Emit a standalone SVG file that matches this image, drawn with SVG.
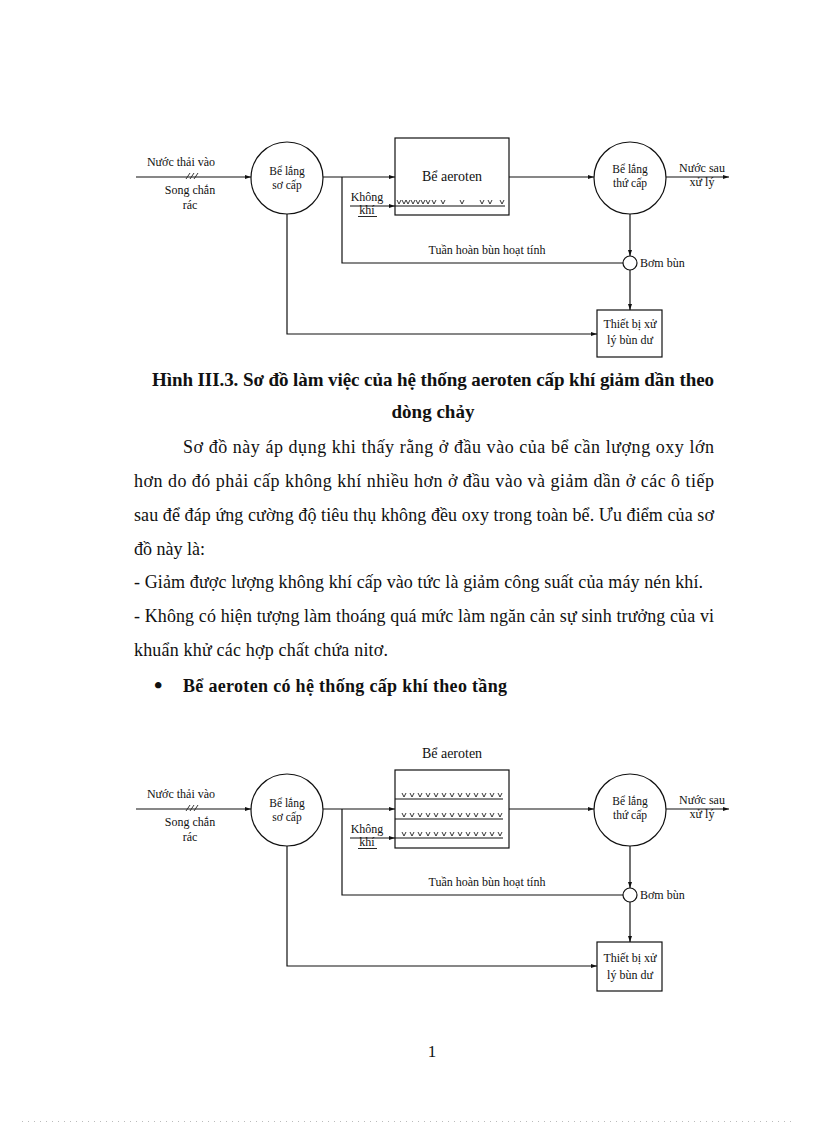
<svg xmlns="http://www.w3.org/2000/svg" width="816" height="1123" viewBox="0 0 816 1123">
<defs>
<style>
.ln{stroke:#111;stroke-width:1.2;fill:none}
.sh{stroke:#111;stroke-width:1.2;fill:#fff}
.ae{stroke:#222;stroke-width:0.9;fill:none}
.t{font-family:"Liberation Serif","Times New Roman",serif;font-size:12px;fill:#111}
.tc{font-family:"Liberation Serif","Times New Roman",serif;font-size:11.5px;fill:#111;text-anchor:middle}
.m{text-anchor:middle}
.b{font-family:"Liberation Serif","Times New Roman",serif;font-size:18px;fill:#111}
.cap{font-family:"Liberation Serif","Times New Roman",serif;font-size:19px;font-weight:bold;fill:#111}
</style>
<marker id="ar" markerUnits="userSpaceOnUse" markerWidth="6" markerHeight="4" refX="6" refY="2" orient="auto">
<path d="M0,0 L6,2 L0,4 z" fill="#111"/>
</marker>
<path id="v" d="M-2,-6 L0,-2 L2,-6" class="ae"/>
</defs>
<rect width="816" height="1123" fill="#fff"/>

<!-- Diagram 1 -->
<g id="diagram1">
<g id="d1-connectors">
<line class="ln" x1="136" y1="177" x2="251" y2="177" marker-end="url(#ar)"/>
<path class="ae" d="M186,179 L190,173 M190,179 L194,173 M194,179 L198,173"/>
<line class="ln" x1="323" y1="177" x2="395" y2="177" marker-end="url(#ar)"/>
<line class="ln" x1="509" y1="177" x2="594" y2="177" marker-end="url(#ar)"/>
<line class="ln" x1="666" y1="177" x2="729" y2="177" marker-end="url(#ar)"/>
<line class="ln" x1="350" y1="206" x2="395" y2="206" marker-end="url(#ar)"/>
<path class="ln" d="M623,263 L342,263 L342,177"/>
<line class="ln" x1="630" y1="214" x2="630" y2="256" marker-end="url(#ar)"/>
<line class="ln" x1="630" y1="270" x2="630" y2="310" marker-end="url(#ar)"/>
<path class="ln" d="M287,214 L287,334 L597,334" marker-end="url(#ar)"/>
</g>
<g id="d1-input-labels">
<text class="t m" x="181" y="166">Nước thải vào</text>
<text class="t m" x="190" y="194">Song chắn</text>
<text class="t m" x="190" y="209">rác</text>
</g>
<g id="d1-primary">
<circle class="sh" cx="287" cy="178" r="36"/>
<text class="tc" x="287" y="175">Bể lắng</text>
<text class="tc" x="287" y="189">sơ cấp</text>
</g>
<g id="d1-aeroten">
<rect class="sh" x="395" y="138" width="114" height="77"/>
<text class="t m" x="452" y="181" style="font-size:14px">Bể aeroten</text>
<line class="ln" x1="395" y1="206" x2="505" y2="206"/>
<use href="#v" x="399" y="206"/><use href="#v" x="404" y="206"/><use href="#v" x="408" y="206"/>
<use href="#v" x="413" y="206"/><use href="#v" x="418" y="206"/><use href="#v" x="423" y="206"/>
<use href="#v" x="428" y="206"/><use href="#v" x="434" y="206"/><use href="#v" x="443" y="206"/>
<use href="#v" x="462" y="206"/><use href="#v" x="482" y="206"/><use href="#v" x="490" y="206"/>
<use href="#v" x="502" y="206"/>
</g>
<g id="d1-air">
<text class="t m" x="367" y="201">Không</text>
<text class="t m" x="367" y="214">khí</text>
<line class="ln" x1="358" y1="216.5" x2="377" y2="216.5" style="stroke-width:0.9"/>
</g>
<g id="d1-secondary">
<circle class="sh" cx="630" cy="178" r="36"/>
<text class="tc" x="630" y="173">Bể lắng</text>
<text class="tc" x="630" y="187">thứ cấp</text>
</g>
<g id="d1-output">
<text class="t m" x="702" y="172">Nước sau</text>
<text class="t m" x="702" y="186">xử lý</text>
</g>
<g id="d1-recycle-label">
<text class="t m" x="487" y="254">Tuần hoàn bùn hoạt tính</text>
</g>
<g id="d1-pump">
<circle class="sh" cx="630" cy="263" r="7"/>
<text class="t" x="640" y="267">Bơm bùn</text>
</g>
<g id="d1-sludge">
<rect class="sh" x="597" y="310" width="65" height="47"/>
<text class="t m" x="630" y="328">Thiết bị xử</text>
<text class="t m" x="630" y="344">lý bùn dư</text>
</g>
</g>

<!-- Caption and body text -->
<text class="cap" x="152" y="386" textLength="562" lengthAdjust="spacing">Hình III.3. Sơ đồ làm việc của hệ thống aeroten cấp khí giảm dần theo</text>
<text class="cap" x="433" y="418" text-anchor="middle">dòng chảy</text>
<text class="b" x="183" y="453" textLength="531" lengthAdjust="spacing">Sơ đồ này áp dụng khi thấy rằng ở đầu vào của bể cần lượng oxy lớn</text>
<text class="b" x="134" y="487" textLength="580" lengthAdjust="spacing">hơn do đó phải  cấp không khí nhiều  hơn ở đầu vào và giảm dần ở các ô tiếp</text>
<text class="b" x="134" y="521" textLength="580" lengthAdjust="spacing">sau để đáp ứng cường độ tiêu thụ không đều oxy trong toàn bể. Ưu điểm của sơ</text>
<text class="b" x="134" y="555">đồ này là:</text>
<text class="b" x="134" y="588" textLength="569" lengthAdjust="spacing">- Giảm được lượng không khí cấp vào tức là  giảm  công suất của máy nén khí.</text>
<text class="b" x="134" y="622" textLength="580" lengthAdjust="spacing">- Không có hiện tượng làm thoáng quá mức làm ngăn cản sự sinh trưởng của vi</text>
<text class="b" x="134" y="656" textLength="254" lengthAdjust="spacing">khuẩn khử các hợp chất chứa nitơ.</text>
<text class="b" x="154" y="693" style="font-size:24px;font-weight:bold">•</text>
<text class="b" x="183" y="692" style="font-weight:bold" textLength="324" lengthAdjust="spacing">Bể aeroten có hệ thống cấp khí theo tầng</text>

<!-- Diagram 2 -->
<g id="diagram2" transform="translate(0,632)">
<g id="d2-connectors">
<line class="ln" x1="136" y1="177" x2="251" y2="177" marker-end="url(#ar)"/>
<path class="ae" d="M186,179 L190,173 M190,179 L194,173 M194,179 L198,173"/>
<line class="ln" x1="323" y1="177" x2="395" y2="177" marker-end="url(#ar)"/>
<line class="ln" x1="509" y1="177" x2="594" y2="177" marker-end="url(#ar)"/>
<line class="ln" x1="666" y1="177" x2="729" y2="177" marker-end="url(#ar)"/>
<line class="ln" x1="350" y1="206" x2="395" y2="206" marker-end="url(#ar)"/>
<path class="ln" d="M623,263 L342,263 L342,177"/>
<line class="ln" x1="630" y1="214" x2="630" y2="256" marker-end="url(#ar)"/>
<line class="ln" x1="630" y1="270" x2="630" y2="310" marker-end="url(#ar)"/>
<path class="ln" d="M287,214 L287,334 L597,334" marker-end="url(#ar)"/>
</g>
<g id="d2-input-labels">
<text class="t m" x="181" y="166">Nước thải vào</text>
<text class="t m" x="190" y="194">Song chắn</text>
<text class="t m" x="190" y="209">rác</text>
</g>
<g id="d2-primary">
<circle class="sh" cx="287" cy="178" r="36"/>
<text class="tc" x="287" y="175">Bể lắng</text>
<text class="tc" x="287" y="189">sơ cấp</text>
</g>
<g id="d2-aeroten">
<text class="t m" x="452" y="126" style="font-size:14px">Bể aeroten</text>
<rect class="sh" x="395" y="138" width="114" height="78"/>
<line class="ln" x1="395" y1="167" x2="503" y2="167"/>
<line class="ln" x1="395" y1="187" x2="503" y2="187"/>
<line class="ln" x1="395" y1="206" x2="503" y2="206"/>
<g id="d2-v1">
<use href="#v" x="404" y="167"/><use href="#v" x="412" y="167"/><use href="#v" x="420" y="167"/><use href="#v" x="428" y="167"/><use href="#v" x="436" y="167"/><use href="#v" x="444" y="167"/><use href="#v" x="452" y="167"/><use href="#v" x="460" y="167"/><use href="#v" x="468" y="167"/><use href="#v" x="476" y="167"/><use href="#v" x="484" y="167"/><use href="#v" x="492" y="167"/><use href="#v" x="500" y="167"/>
</g>
<use href="#d2-v1" y="20"/>
<use href="#d2-v1" y="39"/>
</g>
<g id="d2-air">
<text class="t m" x="367" y="201">Không</text>
<text class="t m" x="367" y="214">khí</text>
<line class="ln" x1="358" y1="216.5" x2="377" y2="216.5" style="stroke-width:0.9"/>
</g>
<g id="d2-secondary">
<circle class="sh" cx="630" cy="178" r="36"/>
<text class="tc" x="630" y="173">Bể lắng</text>
<text class="tc" x="630" y="187">thứ cấp</text>
</g>
<g id="d2-output">
<text class="t m" x="702" y="172">Nước sau</text>
<text class="t m" x="702" y="186">xử lý</text>
</g>
<g id="d2-recycle-label">
<text class="t m" x="487" y="254">Tuần hoàn bùn hoạt tính</text>
</g>
<g id="d2-pump">
<circle class="sh" cx="630" cy="263" r="7"/>
<text class="t" x="640" y="267">Bơm bùn</text>
</g>
<g id="d2-sludge">
<rect class="sh" x="597" y="310" width="65" height="49"/>
<text class="t m" x="630" y="330">Thiết bị xử</text>
<text class="t m" x="630" y="347">lý bùn dư</text>
</g>
</g>

<text class="b" x="432" y="1057" text-anchor="middle" style="font-size:17px">1</text>
<line x1="22" y1="1121.5" x2="792" y2="1121.5" stroke="#bbb" stroke-width="1" stroke-dasharray="1,5"/>
</svg>
